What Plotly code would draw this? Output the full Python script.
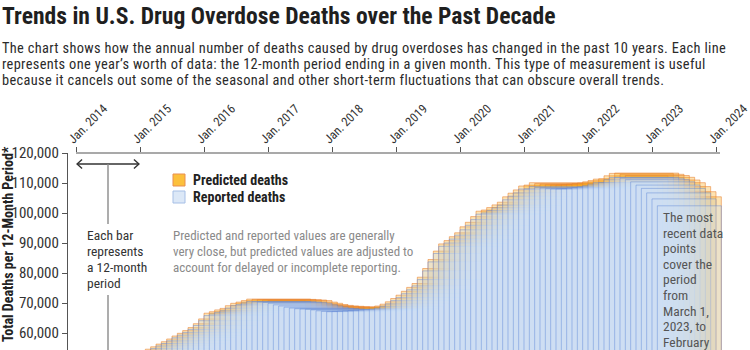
import plotly.graph_objects as go
import pandas as pd

# ---- data: 12-month-ending totals (bar = 12-month period ending in given month)
end_months = [p.strftime("%Y-%m") for p in pd.period_range("2015-01", "2024-02", freq="M")]

predicted = [
    47900, 48300, 48700, 49100, 49600, 50100, 50600, 51100, 51700, 52300, 52900, 53500,  # 2015
    54000, 54600, 55400, 56300, 57100, 58000, 59000, 59900, 60800, 61800, 63100, 64700,  # 2016
    66600, 67100, 67700, 68200, 69100, 69900, 70300, 70800, 71300, 71200, 71100, 71000,  # 2017
    70800, 70300, 69900, 69500, 69200, 69000, 68900, 68800, 68600, 68300, 68100, 68000,  # 2018
    67900, 68000, 68100, 68200, 68300, 68500, 68600, 68700, 69000, 69600, 70400, 71500,  # 2019
    72600, 73900, 75200, 76500, 78600, 81500, 84500, 87300, 89700, 90800, 92100, 93400,  # 2020
    95400, 96900, 98800, 100600, 101000, 101800, 102700, 103600, 105400, 106600, 107700, 109000,  # 2021
    109300, 110100, 109800, 109600, 109400, 109300, 109300, 109400, 109600, 109800, 110000, 110400,  # 2022
    110800, 111300, 111400, 112400, 113200, 113300, 112900, 112500, 111900, 111000, 110100, 108800,  # 2023
    107100, 105400,  # 2024
]
reported = [
    47300, 47700, 48100, 48500, 49000, 49500, 50000, 50500, 51100, 51700, 52300, 52900,
    53400, 54000, 54800, 55700, 56500, 57400, 58400, 59300, 60200, 61200, 62500, 64100,
    65800, 66300, 66900, 67400, 68300, 69100, 69500, 70000, 70500, 70400, 70300, 70200,
    69900, 69400, 69000, 68600, 68300, 68100, 68000, 67900, 67700, 67400, 67200, 67100,
    67200, 67300, 67400, 67500, 67600, 67800, 67900, 68000, 68300, 68900, 69700, 70800,
    71800, 73100, 74400, 75700, 77800, 80700, 83700, 86500, 88900, 90000, 91300, 92600,
    94400, 95900, 97800, 99600, 100000, 100800, 101700, 102600, 104400, 105600, 106700, 108000,
    108000, 108800, 108500, 108300, 108100, 108000, 108000, 108100, 108300, 108500, 108700, 109100,
    109600, 110100, 110100, 111100, 111800, 111900, 111600, 111100, 110400, 109300, 108200, 106700,
    104700, 102400,
]
tick_years = list(range(2014, 2025))
tick_labels = [f"Jan. {y}" for y in tick_years]
y_ticks = [60000, 70000, 80000, 90000, 100000, 110000, 120000]

# months since Jan 2014; each bar spans the 12 months before its end month
def month_index(s):
    y, m = s.split("-")
    return (int(y) - 2014) * 12 + int(m) - 1

centers = [month_index(s) - 6 for s in end_months]
tick_vals = [(y - 2014) * 12 for y in tick_years]

FONT = "Liberation Sans Narrow, Arial Narrow, Roboto Condensed, Roboto, sans-serif"

# layout geometry (pixels)
L, R, T, B, W, H = 68, 13, 153, 0, 750, 350
PW, PH = W - L - R, H - T - B
PX_PER_MONTH = 64 / 12
x_lo = (L - 76) / PX_PER_MONTH
x_hi = x_lo + PW / PX_PER_MONTH
y_hi = 120000
y_lo = y_hi - PH / 30 * 10000

def px(x):
    return (x - L) / PW

def py(y):
    return (H - B - y) / PH

def yv(ypix):
    return y_hi - (ypix - T) / 30 * 10000

fig = go.Figure()
fig.add_trace(go.Bar(
    x=centers, y=predicted, width=12,
    marker=dict(color="rgba(250,176,38,0.35)", line=dict(color="rgba(232,128,48,0.55)", width=1)),
    hoverinfo="skip",
))
fig.add_trace(go.Bar(
    x=centers, y=reported, width=12,
    marker=dict(color="rgba(205,224,247,0.32)", line=dict(color="rgba(90,130,212,0.45)", width=1)),
    hoverinfo="skip",
))

ann = []
def text(x, y, s, size=14, color="#333", bold=False, anchor="left", angle=0):
    ann.append(dict(x=px(x), y=py(y), xref="paper", yref="paper", text=(f"<b>{s}</b>" if bold else s),
                    showarrow=False, xanchor=anchor, yanchor="middle", textangle=angle,
                    font=dict(family=FONT, size=size, color=color)))

text(0, 16, "Trends in U.S. Drug Overdose Deaths over the Past Decade", size=23.6, color="#1f1f1f", bold=True)
sub = [
    "The chart shows how the annual number of deaths caused by drug overdoses has changed in the past 10 years. Each line",
    "represents one year\u2019s worth of data: the 12-month period ending in a given month. This type of measurement is useful",
    "because it cancels out some of the seasonal and other short-term fluctuations that can obscure overall trends.",
]
for i, s in enumerate(sub):
    text(0, 48 + 16.2 * i, f'<span style="letter-spacing:0.33px">{s}</span>', size=14.4, color="#2b2b2b")

text(191, 180, "Predicted deaths", size=14, color="#222", bold=True)
text(191, 197, "Reported deaths", size=14, color="#222", bold=True)

note = ["Predicted and reported values are generally",
        "very close, but predicted values are adjusted to",
        "account for delayed or incomplete reporting."]
for i, s in enumerate(note):
    text(171, 235 + 16 * i, s, size=13, color="#8a8a8a")

each = ["Each bar", "represents", "a 12-month", "period"]
for i, s in enumerate(each):
    text(85, 235 + 16 * i, s, size=13.5, color="#333")

recent = ["The most", "recent data", "points", "cover the", "period", "from",
          "March 1,", "2023, to", "February"]
for i, s in enumerate(recent):
    text(661, 217 + 15.6 * i, s, size=13.5, color="#555")

ann.append(dict(x=px(8), y=py(244), xref="paper", yref="paper",
                text="<b>Total Deaths per 12-Month Period*</b>", showarrow=False, textangle=-90,
                xanchor="center", yanchor="middle", font=dict(family=FONT, size=14, color="#222")))

shapes = []
# top axis line
shapes.append(dict(type="line", xref="paper", yref="paper", x0=px(76), x1=px(720), y0=1, y1=1,
                   line=dict(color="#555", width=1.2)))
# legend swatches
shapes.append(dict(type="rect", xref="paper", yref="paper", x0=px(173), x1=px(185), y0=py(174), y1=py(186),
                   fillcolor="#fcc03c", line=dict(color="#e98f50", width=1)))
shapes.append(dict(type="rect", xref="paper", yref="paper", x0=px(173), x1=px(185), y0=py(191), y1=py(203),
                   fillcolor="#dce8f7", line=dict(color="#a6bfe6", width=1)))
# "each bar" double arrow and leader line
ya = yv(164)
shapes.append(dict(type="line", xref="x", yref="y", x0=0.2, x1=11.8, y0=ya, y1=ya,
                   line=dict(color="#333", width=1.4)))
shapes.append(dict(type="path", xref="x", yref="y", xsizemode="pixel", ysizemode="pixel",
                   xanchor=0.2, yanchor=ya, path="M 5,4.5 L 0,0 L 5,-4.5", line=dict(color="#333", width=1.4)))
shapes.append(dict(type="path", xref="x", yref="y", xsizemode="pixel", ysizemode="pixel",
                   xanchor=11.8, yanchor=ya, path="M -5,4.5 L 0,0 L -5,-4.5", line=dict(color="#333", width=1.4)))
shapes.append(dict(type="line", xref="x", yref="y", x0=6, x1=6, y0=ya, y1=yv(224),
                   line=dict(color="#8a8a8a", width=1.4)))
shapes.append(dict(type="line", xref="x", yref="y", x0=6, x1=6, y0=yv(295), y1=y_lo,
                   line=dict(color="#8a8a8a", width=1.4)))

fig.update_layout(
    template="none",
    width=W, height=H,
    margin=dict(l=L, r=R, t=T, b=B, pad=0),
    paper_bgcolor="white", plot_bgcolor="white",
    barmode="overlay", showlegend=False,
    annotations=ann, shapes=shapes,
    font=dict(family=FONT, size=14, color="#333"),
    xaxis=dict(range=[x_lo, x_hi], side="top", tickvals=tick_vals, ticktext=tick_labels,
               tickangle=-45, ticks="outside", ticklen=5, tickcolor="#555", tickwidth=1,
               ticklabeloverflow="allow", ticklabelstandoff=-4, ticklabelshift=-7,
               showline=False, showgrid=False, zeroline=False, automargin=False,
               tickfont=dict(family=FONT, size=12.5, color="#333")),
    yaxis=dict(range=[y_lo, y_hi], tickvals=y_ticks, tickformat=",", ticks="outside", ticklen=5,
               tickcolor="#555", showline=True, linecolor="#555", linewidth=1.2,
               showgrid=False, zeroline=False, automargin=False,
               tickfont=dict(family=FONT, size=15, color="#333")),
)

fig.write_html("out.html")
